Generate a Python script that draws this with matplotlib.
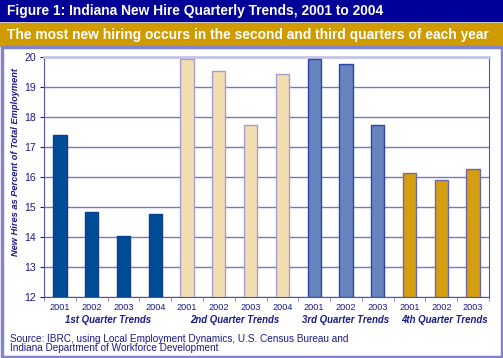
import matplotlib
matplotlib.use("Agg")
import matplotlib.pyplot as plt
from matplotlib.patches import Rectangle

plt.rcParams['font.family'] = ['Liberation Sans', 'DejaVu Sans']

years = ["2001", "2002", "2003", "2004", "2001", "2002", "2003", "2004",
         "2001", "2002", "2003", "2001", "2002", "2003"]
q1 = [17.40, 14.82, 14.04, 14.76]
q2 = [19.93, 19.53, 17.72, 19.44]
q3 = [19.93, 19.77, 17.74]
q4 = [16.13, 15.90, 16.27]
groups = ["1st Quarter Trends", "2nd Quarter Trends", "3rd Quarter Trends", "4th Quarter Trends"]

navy = "#1a1a8c"
grid_c = "#7676c2"
face = ["#004c97", "#f2ddb1", "#6683be", "#d49e10"]
edge = ["#0a3f8a", "#a89cc8", "#2f43a8", "#7068a0"]

W, H = 503, 358
fig = plt.figure(figsize=(W / 100, H / 100), dpi=100)

# header bands and outer box
fig.patches.append(Rectangle((0, 1 - 21 / H), 1, 21 / H, transform=fig.transFigure,
                             color="#000099", zorder=0))
fig.patches.append(Rectangle((0, 1 - 46 / H), 1, 23 / H, transform=fig.transFigure,
                             color="#cf9b00", zorder=0))
fig.patches.append(Rectangle((1.5 / W, 1.5 / H), (W - 3) / W, (H - 48.5) / H,
                             transform=fig.transFigure, fill=False,
                             edgecolor="#8484cc", lw=2.5, zorder=0))

fig.text(7 / W, 1 - 11 / H, "Figure 1: Indiana New Hire Quarterly Trends, 2001 to 2004",
         color="white", fontsize=9.9, fontweight="bold", va="center", ha="left")
fig.text(7 / W, 1 - 34.5 / H,
         "The most new hiring occurs in the second and third quarters of each year",
         color="white", fontsize=9.9, fontweight="bold", va="center", ha="left")

ax = fig.add_axes([44 / W, (H - 297) / H, (489 - 44) / W, (297 - 57) / H])

vals = q1 + q2 + q3 + q4
cols = [0] * len(q1) + [1] * len(q2) + [2] * len(q3) + [3] * len(q4)
x = list(range(len(vals)))
ax.bar(x, [v - 12 for v in vals], bottom=12, width=0.42,
       color=[face[c] for c in cols], edgecolor=[edge[c] for c in cols],
       linewidth=1.0, zorder=3)

ax.set_xlim(-0.5, len(vals) - 0.5)
ax.set_ylim(12, 20)
ax.set_yticks(range(12, 21))
ax.yaxis.grid(True, color=grid_c, lw=1.0, zorder=0)
ax.set_xticks(x)
ax.set_xticklabels(years, color=navy, fontsize=6.6)
ax.set_xticks([i + 0.5 for i in range(-1, len(vals))], minor=True)
ax.tick_params(axis="x", which="major", length=0, pad=4.5)
ax.tick_params(axis="x", which="minor", length=3, color=grid_c)
ax.tick_params(axis="y", colors=navy, labelsize=7.6, length=3, color=navy, pad=3)
for s in ["left", "bottom", "right"]:
    ax.spines[s].set_color("#5252b0")
ax.spines["top"].set_color("#c4c4ea")
ax.spines["top"].set_linewidth(2)

ax.set_ylabel("New Hires as Percent of Total Employment", color=navy, fontsize=6.7,
              fontweight="bold", style="italic")
ax.yaxis.set_label_coords((16 - 44) / 445, (297 - 161.5) / 240)
ax.yaxis.label.set_va("center")

centers = [1.5, 5.5, 9.0, 12.1]
for c, g in zip(centers, groups):
    ax.text(c, -0.094, g, transform=ax.get_xaxis_transform(), ha="center", va="center",
            color=navy, fontsize=6.9, fontweight="bold", style="italic")

fig.text(10 / W, 1 - 343.5 / H,
         "Source: IBRC, using Local Employment Dynamics, U.S. Census Bureau and\n"
         "Indiana Department of Workforce Development",
         color=navy, fontsize=7.2, va="center", ha="left", linespacing=0.95)

fig.savefig("out.png", dpi=100)
